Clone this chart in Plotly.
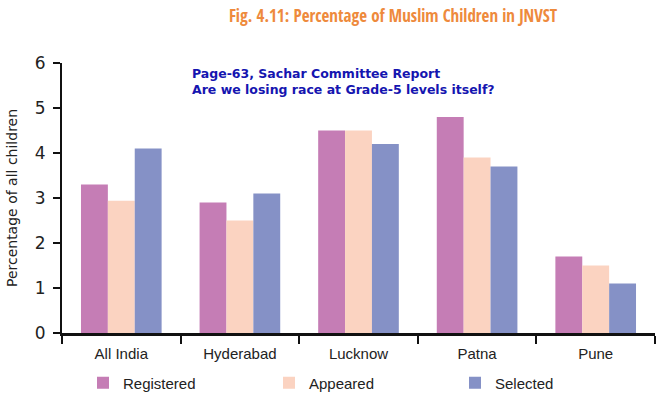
import plotly.graph_objects as go

categories = ["All India", "Hyderabad", "Lucknow", "Patna", "Pune"]
registered = [3.3, 2.9, 4.5, 4.8, 1.7]
appeared = [2.94, 2.5, 4.5, 3.9, 1.5]
selected = [4.1, 3.1, 4.2, 3.7, 1.1]
series_names = ["Registered", "Appeared", "Selected"]
y_ticks = [0, 1, 2, 3, 4, 5, 6]

colors = ["#C57DB5", "#FBD3C1", "#8591C6"]
narrow = "Liberation Sans Narrow, Arial Narrow, Liberation Sans, Arial"

fig = go.Figure()
for name, vals, col in zip(series_names, [registered, appeared, selected], colors):
    fig.add_trace(go.Bar(x=categories, y=vals, name=name,
                         marker=dict(color=col, line=dict(width=0))))

fig.update_layout(
    width=659, height=395,
    margin=dict(l=62, r=4, t=63, b=62, autoexpand=False),
    paper_bgcolor="white", plot_bgcolor="white",
    barmode="group", bargap=0.32, bargroupgap=0,
    showlegend=True,
    legend=dict(orientation="h", x=83 / 659, xanchor="left", xref="container",
                y=1 - 383 / 395, yanchor="middle", yref="container",
                entrywidth=141, entrywidthmode="pixels", borderwidth=0,
                font=dict(family=narrow, size=15, color="#222")),
    title=dict(text="<b>Fig. 4.11: Percentage of Muslim Children in JNVST</b>",
               x=393 / 659, xanchor="center", y=1 - 16 / 395, yanchor="middle",
               font=dict(family="Open Sans Condensed, Liberation Sans Narrow, Open Sans", size=17, color="#EE8A3C")),
)

fig.update_xaxes(
    type="category", tickson="boundaries", ticks="outside", ticklen=8, tickwidth=2,
    tickcolor="#111", showline=True, linecolor="#111", linewidth=3,
    tickfont=dict(family=narrow, size=15, color="#222"), showgrid=False,
    automargin=False, ticklabelstandoff=5,
)
fig.update_yaxes(
    range=[0, 6], tickvals=y_ticks, ticks="outside", ticklen=7, tickwidth=2,
    tickcolor="#111", showline=True, linecolor="#111", linewidth=2,
    tickfont=dict(family="DejaVu Sans, Liberation Sans", size=17, color="#222"),
    showgrid=False, zeroline=False, automargin=False, ticklabelstandoff=4,
    title=dict(text="Percentage of all children", standoff=14,
               font=dict(family="DejaVu Sans, Liberation Sans", size=14, color="#222")),
)

fig.add_annotation(
    text="<b>Page-63, Sachar Committee Report<br>Are we losing race at Grade-5 levels itself?</b>",
    xref="paper", yref="paper", x=(190 - 62) / 593, y=(333 - 64) / 270,
    xanchor="left", yanchor="top", align="left", showarrow=False,
    font=dict(family="DejaVu Sans, Liberation Sans", size=12.5, color="#1515B0"),
)

fig.write_html("out.html", config={"displayModeBar": False},
               post_script="document.body.style.margin='0';document.body.style.overflow='hidden';")
